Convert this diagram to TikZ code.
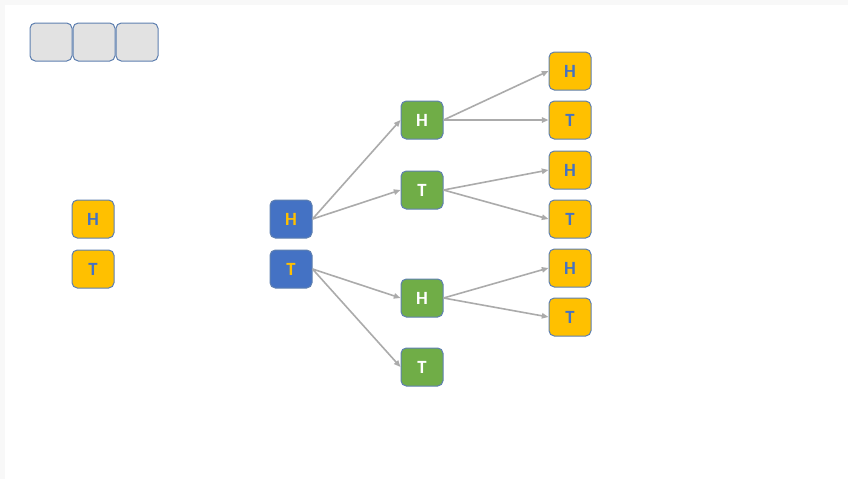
\documentclass[tikz,border=0pt]{standalone}
\usepackage{fontspec}
\setmainfont{Carlito}
\usetikzlibrary{arrows.meta}
\definecolor{yel}{HTML}{FFC000}
\definecolor{blu}{HTML}{4472C4}
\definecolor{grn}{HTML}{70AD47}
\definecolor{gry}{HTML}{E2E2E2}
\definecolor{edge}{HTML}{5F80B0}
\definecolor{arr}{HTML}{ABABAB}
\definecolor{bgstrip}{HTML}{F8F8F8}
\tikzset{
  box/.style={draw=edge, line width=0.75pt, rounded corners=4pt, minimum width=42*0.75pt, minimum height=38*0.75pt, inner sep=0pt, font=\fontsize{14}{14}\selectfont\bfseries},
  ybox/.style={box, fill=yel, text=blu},
  bbox/.style={box, fill=blu, text=yel},
  gbox/.style={box, fill=grn, text=white},
  ebox/.style={box, fill=gry},
  conn/.style={draw=arr, line width=1.2pt, -{Triangle[length=5pt,width=4pt]}}
}
\begin{document}
\begin{tikzpicture}[x=0.75pt,y=-0.75pt]
\fill[bgstrip] (0,0) rectangle (848,479);
\fill[white] (5,5) rectangle (848,479);
\useasboundingbox (0,0) rectangle (848,479);
% empty boxes
\node[ebox] (e1) at (51,42) {};
\node[ebox] (e2) at (94,42) {};
\node[ebox] (e3) at (137,42) {};
% left
\node[ybox] (lh) at (93,219) {H};
\node[ybox] (lt) at (93,269) {T};
% blue
\node[bbox] (bh) at (291,219) {H};
\node[bbox] (bt) at (291,269) {T};
% green
\node[gbox] (g1) at (422,120) {H};
\node[gbox] (g2) at (422,190) {T};
\node[gbox] (g3) at (422,298) {H};
\node[gbox] (g4) at (422,367) {T};
% right yellow
\node[ybox] (y1) at (570,71) {H};
\node[ybox] (y2) at (570,120) {T};
\node[ybox] (y3) at (570,170) {H};
\node[ybox] (y4) at (570,219) {T};
\node[ybox] (y5) at (570,268) {H};
\node[ybox] (y6) at (570,317) {T};
% connectors
\draw[conn] (bh.east) -- (g1.west);
\draw[conn] (bh.east) -- (g2.west);
\draw[conn] (bt.east) -- (g3.west);
\draw[conn] (bt.east) -- (g4.west);
\draw[conn] (g1.east) -- (y1.west);
\draw[conn] (g1.east) -- (y2.west);
\draw[conn] (g2.east) -- (y3.west);
\draw[conn] (g2.east) -- (y4.west);
\draw[conn] (g3.east) -- (y5.west);
\draw[conn] (g3.east) -- (y6.west);
\end{tikzpicture}
\end{document}
